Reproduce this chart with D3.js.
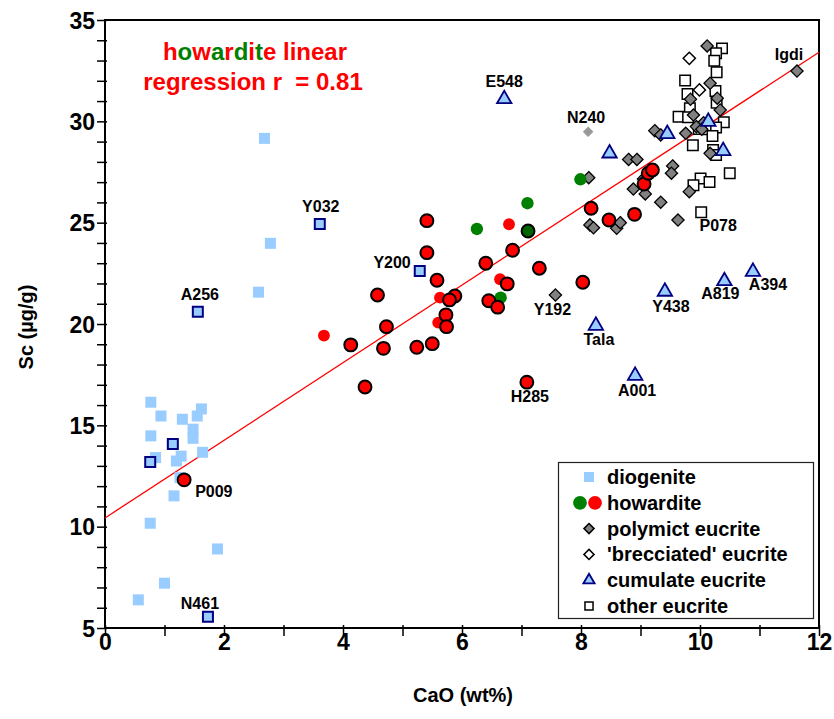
<!DOCTYPE html>
<html>
<head>
<meta charset="utf-8">
<script src="https://cdn.jsdelivr.net/npm/d3@7"></script>
<style>
  body { margin: 0; background: #fff; }
  svg text { font-family: "Liberation Sans", Arial, sans-serif; font-weight: bold; }
</style>
</head>
<body>
<svg id="chart" width="834" height="719"></svg>
<script>
// Sc (µg/g) against CaO (wt%) for HED meteorites, each pair is [CaO, Sc]

const diogenite = [
  [2.68, 29.16], [2.78, 23.98], [2.58, 21.57], [0.77, 16.14], [0.94, 15.46],
  [1.30, 15.30], [1.62, 15.81], [1.55, 15.46], [1.48, 14.81], [1.48, 14.36],
  [0.77, 14.48], [0.85, 13.41], [1.20, 13.24], [1.28, 13.48], [1.64, 13.67],
  [1.26, 12.42], [1.16, 11.52], [0.76, 10.17], [1.89, 8.90], [1.00, 7.21],
  [0.56, 6.39]
];
// diogenites drawn with a dark rim
const diogeniteRimmed = [
  [1.14, 14.08], [0.76, 13.19], [1.73, 5.56], [1.56, 20.61], [3.61, 24.94], [5.29, 22.62]
];

// howardites: rimmed red, plain red, plain green, rimmed green
const howarditeRedRimmed = [
  [5.41, 25.10], [5.41, 23.52], [5.58, 22.16], [4.58, 21.43], [5.88, 21.38],
  [5.79, 21.19], [5.73, 20.45], [5.74, 19.87], [4.73, 19.87], [4.13, 18.97],
  [4.68, 18.80], [5.24, 18.85], [5.50, 19.03], [4.37, 16.89], [6.85, 23.64],
  [6.40, 23.00], [6.76, 21.98], [6.45, 21.15], [6.60, 20.83], [7.30, 22.75],
  [7.09, 17.13], [8.03, 22.06], [8.17, 25.71], [8.47, 25.13], [8.90, 25.41],
  [9.06, 26.91], [9.13, 27.44], [9.20, 27.60], [1.33, 12.31]
];
const howarditeRed = [
  [3.68, 19.43], [6.79, 24.92], [6.64, 22.21], [5.63, 21.30], [5.60, 20.07]
];
const howarditeGreen = [
  [6.25, 24.69], [7.10, 25.96], [6.65, 21.30], [7.99, 27.14]
];
const howarditeGreenRimmed = [
  [7.11, 24.59]
];

const polymictEucrite = [
  [10.12, 33.72], [11.63, 32.48], [10.17, 31.88], [10.29, 31.14], [9.84, 31.09],
  [10.34, 30.56], [9.89, 30.31], [10.06, 29.93], [9.94, 29.74], [10.03, 29.61],
  [9.76, 29.41], [9.24, 29.54], [9.34, 29.33], [10.17, 28.42], [9.54, 27.80],
  [9.52, 27.44], [9.82, 26.53], [8.80, 28.12], [8.94, 28.12], [8.13, 27.22],
  [9.05, 27.16], [8.88, 26.66], [9.08, 26.42], [9.34, 26.01], [8.15, 24.89],
  [8.21, 24.75], [8.60, 24.72], [8.66, 25.00], [9.63, 25.13], [7.57, 21.43]
];
// polymict eucrite shown without a rim (N240)
const polymictPlain = [
  [8.12, 29.49]
];
const brecciatedEucrite = [
  [9.82, 33.11], [9.99, 31.55]
];
const cumulateEucrite = [
  [6.71, 31.10], [8.48, 28.42], [9.45, 29.38], [10.14, 29.98], [10.39, 28.54],
  [9.41, 21.60], [10.41, 22.12], [10.89, 22.58], [8.25, 19.92], [8.91, 17.45]
];
const otherEucrite = [
  [10.37, 33.60], [10.27, 33.36], [10.24, 32.99], [10.28, 32.42], [9.75, 32.01],
  [10.26, 31.50], [9.79, 31.35], [10.28, 30.92], [9.83, 30.64], [9.64, 30.23],
  [9.80, 30.20], [10.40, 29.95], [9.98, 29.62], [10.11, 29.61], [10.27, 29.69],
  [10.21, 29.28], [9.88, 28.82], [10.22, 28.59], [10.27, 28.34], [10.50, 27.44],
  [10.01, 27.18], [10.16, 27.01], [9.89, 26.85], [10.02, 25.51]
];

// named samples: name, CaO, Sc
const sampleNames = ["E548", "N240", "Igdi", "Y032", "Y200", "A256", "P009", "N461",
  "Y192", "Tala", "H285", "A001", "Y438", "A819", "A394", "P078"];
const sampleCaO = [6.71, 8.12, 11.63, 3.61, 5.29, 1.56, 1.33, 1.73,
  7.57, 8.25, 7.09, 8.91, 9.41, 10.41, 10.89, 10.02];
const sampleSc = [31.10, 29.49, 32.48, 24.94, 22.62, 20.61, 12.31, 5.56,
  21.43, 19.92, 17.13, 17.45, 21.60, 22.12, 22.58, 25.51];

// howardite linear regression
const regIntercept = 10.43;
const regSlope = 1.915;

const xTickValues = [0, 1, 2, 3, 4, 5, 6, 7, 8, 9, 10, 11, 12];
const xTickLabels = [0, 2, 4, 6, 8, 10, 12];
const yTickValues = d3.range(5, 36, 1);
const yTickLabels = [5, 10, 15, 20, 25, 30, 35];

const legendItems = ["diogenite", "howardite", "polymict eucrite", "'brecciated' eucrite",
  "cumulate eucrite", "other eucrite"];

// ---- layout ----
const svg = d3.select("#chart");
const plotLeft = 105, plotRight = 819, plotTop = 20, plotBottom = 628;
const x = d3.scaleLinear().domain([0, 12]).range([plotLeft, plotRight]);
const y = d3.scaleLinear().domain([5, 35]).range([plotBottom, plotTop]);

const RED = "#ff0000", GREEN = "#008000", BLUE = "#99ccff", NAVY = "#000080", GREY = "#808080";

// axes
const xAxis = svg.append("g").attr("transform", `translate(0,${plotBottom})`)
  .call(d3.axisBottom(x).tickValues(xTickValues).tickSize(8)
    .tickFormat(d => xTickLabels.includes(d) ? d : ""));
xAxis.select(".domain").remove();
xAxis.selectAll(".tick line").attr("y1", -3).attr("stroke", "#000").attr("stroke-width", 1.5);
xAxis.selectAll(".tick text").attr("font-size", 23).attr("fill", "#000").attr("dy", "0.6em").attr("y", 8);

const yAxis = svg.append("g").attr("transform", `translate(${plotLeft},0)`)
  .call(d3.axisLeft(y).tickValues(yTickValues).tickSize(8)
    .tickFormat(d => yTickLabels.includes(d) ? d : ""));
yAxis.select(".domain").remove();
yAxis.selectAll(".tick line").attr("x1", 2).attr("stroke", "#000").attr("stroke-width", 1.5);
yAxis.selectAll(".tick text").attr("font-size", 23).attr("fill", "#000").attr("x", -10).attr("dy", "0.36em");

// plot frame
svg.append("rect")
  .attr("x", plotLeft).attr("y", plotTop).attr("width", plotRight - plotLeft).attr("height", plotBottom - plotTop)
  .attr("fill", "none").attr("stroke", "#000").attr("stroke-width", 2);

// axis titles
svg.append("text").attr("x", 463).attr("y", 702)
  .attr("text-anchor", "middle").attr("font-size", 20).text("CaO (wt%)");
svg.append("text").attr("transform", `translate(33,${(plotTop + plotBottom) / 2 + 3}) rotate(-90)`)
  .attr("text-anchor", "middle").attr("font-size", 20).text("Sc (µg/g)");

// regression line
svg.append("line")
  .attr("x1", x(0)).attr("y1", y(regIntercept))
  .attr("x2", x(12)).attr("y2", y(regIntercept + regSlope * 12))
  .attr("stroke", RED).attr("stroke-width", 1.3);

// regression caption, "howardite" in alternating colours
const cap = svg.append("text").attr("x", 255).attr("y", 60)
  .attr("text-anchor", "middle").attr("font-size", 24).attr("fill", RED);
"howardite".split("").forEach((c, i) =>
  cap.append("tspan").attr("fill", i % 2 ? GREEN : RED).text(c));
cap.append("tspan").attr("fill", RED).text(" linear");
svg.append("text").attr("x", 253).attr("y", 90).attr("text-anchor", "middle")
  .attr("font-size", 24).attr("fill", RED)
  .style("white-space", "pre").text("regression r  = 0.81");

// marker helpers
const sym = (type, size) => d3.symbol().type(type).size(size)();
function drawPoints(data, type, size, fill, stroke, sw) {
  svg.append("g").selectAll("path").data(data).join("path")
    .attr("transform", d => `translate(${x(d[0])},${y(d[1])})`)
    .attr("d", sym(type, size))
    .attr("fill", fill)
    .attr("stroke", stroke || "none")
    .attr("stroke-width", sw || 0);
}
const diamond = d3.symbolDiamond2;

drawPoints(otherEucrite, d3.symbolSquare, 110, "#fff", "#000", 1.5);
drawPoints(brecciatedEucrite, diamond, 95, "#fff", "#000", 1.5);
drawPoints(polymictEucrite, diamond, 95, GREY, "#000", 1.3);
drawPoints(polymictPlain, diamond, 70, "#999999");
drawPoints(cumulateEucrite, d3.symbolTriangle, 90, BLUE, NAVY, 1.8);
drawPoints(diogenite, d3.symbolSquare, 121, BLUE);
drawPoints(diogeniteRimmed, d3.symbolSquare, 100, BLUE, NAVY, 2);
drawPoints(howarditeGreen, d3.symbolCircle, 120, GREEN);
drawPoints(howarditeRed, d3.symbolCircle, 110, RED);
drawPoints(howarditeGreenRimmed, d3.symbolCircle, 130, "#006400", "#000", 2);
drawPoints(howarditeRedRimmed, d3.symbolCircle, 130, RED, "#000", 2);

// sample name offsets (px) relative to the point
const labelOffset = {
  E548: [0, -12, "middle"], N240: [-2, -9, "middle"], Igdi: [-8, -11, "middle"],
  Y032: [1, -12, "middle"], Y200: [-9, -3, "end"], A256: [2, -12, "middle"],
  P009: [11, 17, "start"], N461: [-8, -8, "middle"], Y192: [-3, 20, "middle"],
  Tala: [3, 19, "middle"], H285: [3, 20, "middle"], A001: [2, 20, "middle"],
  Y438: [6, 20, "middle"], A819: [-4, 18, "middle"], A394: [15, 18, "middle"],
  P078: [17, 19, "middle"]
};
svg.append("g").selectAll("text").data(sampleNames).join("text")
  .attr("x", (d, i) => x(sampleCaO[i]) + labelOffset[d][0])
  .attr("y", (d, i) => y(sampleSc[i]) + labelOffset[d][1])
  .attr("text-anchor", d => labelOffset[d][2])
  .attr("font-size", 16).attr("fill", "#000").text(d => d);

// legend
const lg = svg.append("g");
lg.append("rect").attr("x", 558.5).attr("y", 462.5).attr("width", 255).attr("height", 156)
  .attr("fill", "#fff").attr("stroke", "#222").attr("stroke-width", 1.2);
const rowY = i => 477 + i * 25.8;
legendItems.forEach((name, i) => {
  lg.append("text").attr("x", 607).attr("y", rowY(i)).attr("dy", "0.35em")
    .attr("font-size", 20).attr("fill", "#000").text(name);
});
const lsym = (i, type, size, fill, stroke, sw, cx) =>
  lg.append("path").attr("transform", `translate(${cx || 589},${rowY(i)})`)
    .attr("d", sym(type, size)).attr("fill", fill)
    .attr("stroke", stroke || "none").attr("stroke-width", sw || 0);
lsym(0, d3.symbolSquare, 100, BLUE);
lsym(1, d3.symbolCircle, 150, GREEN, null, 0, 580);
lsym(1, d3.symbolCircle, 150, RED, null, 0, 595);
lsym(2, diamond, 65, GREY, "#000", 1.5);
lsym(3, diamond, 65, "#fff", "#000", 1.5);
lsym(4, d3.symbolTriangle, 55, BLUE, NAVY, 1.8);
lsym(5, d3.symbolSquare, 65, "#fff", "#000", 1.5);
</script>
</body>
</html>
